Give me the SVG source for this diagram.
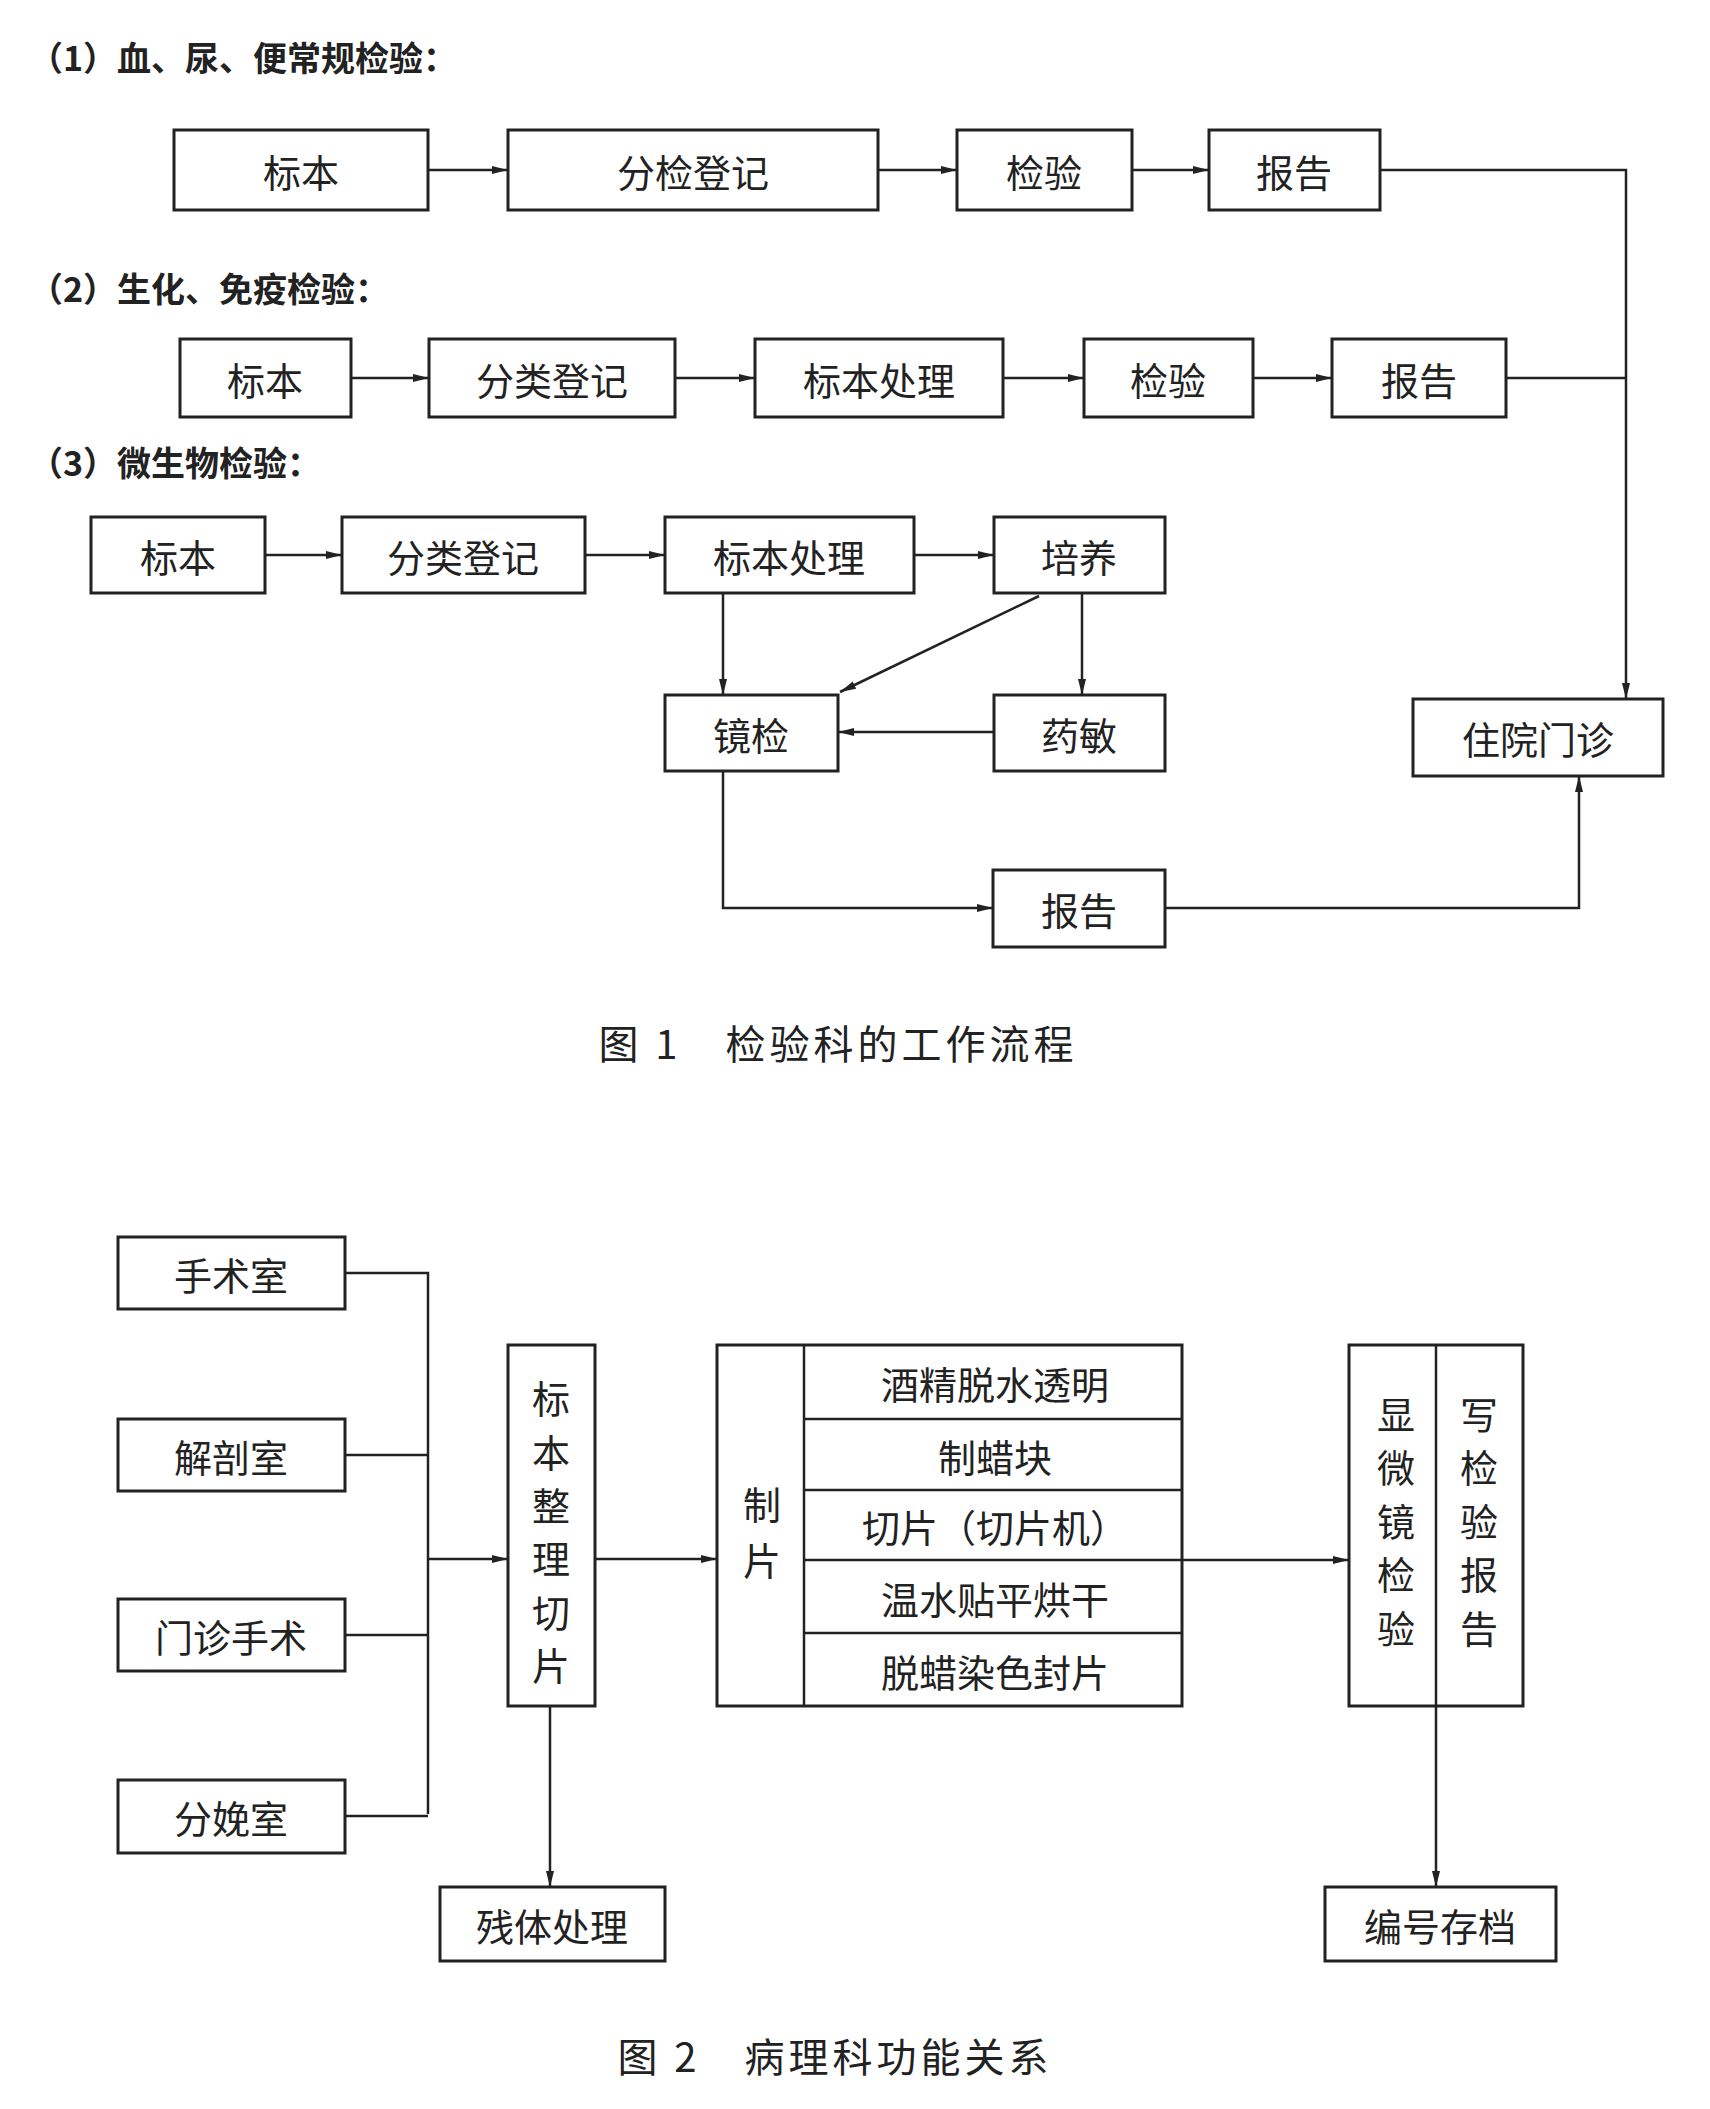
<svg xmlns="http://www.w3.org/2000/svg" width="1710" height="2109" viewBox="0 0 1710 2109">
<defs>
<marker id="ar" viewBox="0 0 10 10" refX="10" refY="5" markerWidth="16" markerHeight="10" orient="auto" markerUnits="userSpaceOnUse" preserveAspectRatio="none"><path d="M0,1 L10,5 L0,9 z" fill="#222"/></marker>
<style>
rect{fill:#fff;stroke:#222;stroke-width:3}
line,path.c{stroke:#222;stroke-width:2.5;fill:none}
text{font-family:"Noto Sans CJK SC","Liberation Serif",serif;fill:#222;font-size:38px;text-anchor:middle;dominant-baseline:central}
text.h{text-anchor:start;font-size:34px;font-weight:bold}
text.cap{font-size:40px;letter-spacing:4px}
</style>
</defs>
<rect x="0" y="0" width="1710" height="2109" style="stroke:none"/>
<text class="h" x="29" y="56">（1）血、尿、便常规检验：</text>
<text class="h" x="29" y="287">（2）生化、免疫检验：</text>
<text class="h" x="29" y="461">（3）微生物检验：</text>
<g id="r1a"><rect x="174" y="130" width="254" height="80"/><text x="301" y="170">标本</text></g>
<g id="r1b"><rect x="508" y="130" width="370" height="80"/><text x="693" y="170">分检登记</text></g>
<g id="r1c"><rect x="957" y="130" width="175" height="80"/><text x="1044" y="170">检验</text></g>
<g id="r1d"><rect x="1209" y="130" width="171" height="80"/><text x="1294" y="170">报告</text></g>
<g id="r2a"><rect x="180" y="339" width="171" height="78"/><text x="265" y="378">标本</text></g>
<g id="r2b"><rect x="429" y="339" width="246" height="78"/><text x="552" y="378">分类登记</text></g>
<g id="r2c"><rect x="755" y="339" width="248" height="78"/><text x="879" y="378">标本处理</text></g>
<g id="r2d"><rect x="1084" y="339" width="169" height="78"/><text x="1168" y="378">检验</text></g>
<g id="r2e"><rect x="1332" y="339" width="174" height="78"/><text x="1419" y="378">报告</text></g>
<g id="r3a"><rect x="91" y="517" width="174" height="76"/><text x="178" y="555">标本</text></g>
<g id="r3b"><rect x="342" y="517" width="243" height="76"/><text x="463" y="555">分类登记</text></g>
<g id="r3c"><rect x="665" y="517" width="249" height="76"/><text x="789" y="555">标本处理</text></g>
<g id="r3d"><rect x="994" y="517" width="171" height="76"/><text x="1079" y="555">培养</text></g>
<g id="r4a"><rect x="665" y="695" width="173" height="76"/><text x="751" y="733">镜检</text></g>
<g id="r4b"><rect x="994" y="695" width="171" height="76"/><text x="1079" y="733">药敏</text></g>
<g id="r4c"><rect x="1413" y="699" width="250" height="77"/><text x="1538" y="737">住院门诊</text></g>
<g id="r5"><rect x="993" y="870" width="172" height="77"/><text x="1079" y="908">报告</text></g>
<text class="cap" x="838" y="1042">图 1　检验科的工作流程</text>

<g id="f2a"><rect x="118" y="1237" width="227" height="72"/><text x="231" y="1273">手术室</text></g>
<g id="f2b"><rect x="118" y="1419" width="227" height="72"/><text x="231" y="1455">解剖室</text></g>
<g id="f2c"><rect x="118" y="1599" width="227" height="72"/><text x="231" y="1635">门诊手术</text></g>
<g id="f2d"><rect x="118" y="1780" width="227" height="73"/><text x="231" y="1816">分娩室</text></g>
<g id="f2e"><rect x="508" y="1345" width="87" height="361"/>
<text x="551" y="1396">标</text><text x="551" y="1450">本</text><text x="551" y="1503">整</text><text x="551" y="1556">理</text><text x="551" y="1610">切</text><text x="551" y="1663">片</text></g>
<g id="f2f"><rect x="717" y="1345" width="465" height="361"/>
<line x1="804" y1="1345" x2="804" y2="1706"/>
<line x1="804" y1="1419" x2="1182" y2="1419"/><line x1="804" y1="1490" x2="1182" y2="1490"/><line x1="804" y1="1560" x2="1182" y2="1560"/><line x1="804" y1="1633" x2="1182" y2="1633"/>
<text x="762" y="1502">制</text><text x="762" y="1558">片</text>
<text x="995" y="1382">酒精脱水透明</text><text x="995" y="1455">制蜡块</text><text x="995" y="1525">切片（切片机）</text><text x="995" y="1597">温水贴平烘干</text><text x="995" y="1670">脱蜡染色封片</text></g>
<g id="f2g"><rect x="1349" y="1345" width="174" height="361"/>
<line x1="1436" y1="1345" x2="1436" y2="1706"/>
<text x="1396" y="1412">显</text><text x="1396" y="1465">微</text><text x="1396" y="1519">镜</text><text x="1396" y="1572">检</text><text x="1396" y="1626">验</text>
<text x="1479" y="1412">写</text><text x="1479" y="1465">检</text><text x="1479" y="1519">验</text><text x="1479" y="1572">报</text><text x="1479" y="1626">告</text></g>
<g id="f2h"><rect x="440" y="1887" width="225" height="74"/><text x="552" y="1924">残体处理</text></g>
<g id="f2i"><rect x="1325" y="1887" width="231" height="74"/><text x="1440" y="1924">编号存档</text></g>
<text class="cap" x="835" y="2055">图 2　病理科功能关系</text>

<g id="connectors">
<line x1="428" y1="170" x2="508" y2="170" marker-end="url(#ar)"/>
<line x1="878" y1="170" x2="957" y2="170" marker-end="url(#ar)"/>
<line x1="1132" y1="170" x2="1209" y2="170" marker-end="url(#ar)"/>
<path class="c" d="M1380,170 H1626 V699" marker-end="url(#ar)"/>
<line x1="351" y1="378" x2="429" y2="378" marker-end="url(#ar)"/>
<line x1="675" y1="378" x2="755" y2="378" marker-end="url(#ar)"/>
<line x1="1003" y1="378" x2="1084" y2="378" marker-end="url(#ar)"/>
<line x1="1253" y1="378" x2="1332" y2="378" marker-end="url(#ar)"/>
<line x1="1506" y1="378" x2="1626" y2="378"/>
<line x1="265" y1="555" x2="342" y2="555" marker-end="url(#ar)"/>
<line x1="585" y1="555" x2="665" y2="555" marker-end="url(#ar)"/>
<line x1="914" y1="555" x2="994" y2="555" marker-end="url(#ar)"/>
<line x1="723" y1="593" x2="723" y2="695" marker-end="url(#ar)"/>
<line x1="1082" y1="593" x2="1082" y2="695" marker-end="url(#ar)"/>
<line x1="1039" y1="596" x2="840" y2="692" marker-end="url(#ar)"/>
<line x1="994" y1="732" x2="838" y2="732" marker-end="url(#ar)"/>
<path class="c" d="M723,771 V908 H993" marker-end="url(#ar)"/>
<path class="c" d="M1165,908 H1579 V776" marker-end="url(#ar)"/>
<path class="c" d="M345,1273 H428 V1814"/>
<line x1="345" y1="1455" x2="428" y2="1455"/>
<line x1="345" y1="1635" x2="428" y2="1635"/>
<line x1="345" y1="1816" x2="428" y2="1816"/>
<line x1="428" y1="1559" x2="508" y2="1559" marker-end="url(#ar)"/>
<line x1="595" y1="1559" x2="717" y2="1559" marker-end="url(#ar)"/>
<line x1="1182" y1="1560" x2="1349" y2="1560" marker-end="url(#ar)"/>
<line x1="550" y1="1706" x2="550" y2="1887" marker-end="url(#ar)"/>
<line x1="1436" y1="1706" x2="1436" y2="1887" marker-end="url(#ar)"/>
</g>
</svg>
